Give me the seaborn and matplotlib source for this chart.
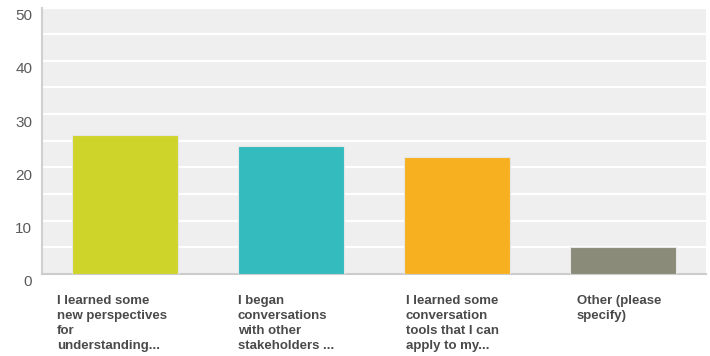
import matplotlib
matplotlib.use("Agg")
import matplotlib.pyplot as plt
from matplotlib.transforms import ScaledTranslation
import seaborn as sns
import pandas as pd

categories = [
    "I learned some\nnew perspectives\nfor\nunderstanding...",
    "I began\nconversations\nwith other\nstakeholders ...",
    "I learned some\nconversation\ntools that I can\napply to my...",
    "Other (please\nspecify)",
]
responses = [26, 24, 22, 5]
bar_colors = ["#cfd42a", "#33bbbe", "#f7b01f", "#8a8b78"]
major_ticks = [0, 10, 20, 30, 40, 50]
minor_ticks = [5, 15, 25, 35, 45]

sns.set_theme(style="white")
plt.rcParams["font.family"] = ["Liberation Sans", "DejaVu Sans"]

df = pd.DataFrame({"answer": categories, "count": responses})

fig = plt.figure(figsize=(7.10, 3.56), dpi=100)
ax = fig.add_axes([42 / 710, 82 / 356, 664 / 710, 266.5 / 356])
ax.set_facecolor("#efefef")

sns.barplot(
    data=df, x="answer", y="count", hue="answer",
    palette=bar_colors, width=0.64, legend=False,
    edgecolor="#e6e6e6", linewidth=0.8, saturation=1, ax=ax, zorder=3,
)

ax.set_ylim(0, 50)
ax.set_xlim(-0.5, len(categories) - 0.5)
ax.set_yticks(major_ticks)
ax.set_yticks(minor_ticks, minor=True)
ax.grid(axis="y", which="both", color="white", linewidth=1.6, zorder=0)
ax.set_axisbelow(True)
ax.tick_params(axis="both", which="both", length=0)
ax.tick_params(axis="y", pad=7, labelsize=11, labelcolor="#5a5a5a")
ax.set_xlabel("")
ax.set_ylabel("")

ax.tick_params(axis="x", pad=15)
x_shifts = [-13, -5, -5, -4]
for lbl, dx in zip(ax.get_xticklabels(), x_shifts):
    lbl.set_fontweight("bold")
    lbl.set_fontsize(9.5)
    lbl.set_color("#4a4a4a")
    lbl.set_multialignment("left")
    lbl.set_linespacing(1.35)
    lbl.set_transform(lbl.get_transform()
                      + ScaledTranslation(dx / 100, 0, fig.dpi_scale_trans))

shift = ScaledTranslation(0, -7 / 100, fig.dpi_scale_trans)
for lbl in ax.get_yticklabels():
    lbl.set_transform(lbl.get_transform() + shift)

for side in ["top", "right"]:
    ax.spines[side].set_visible(False)
ax.spines["left"].set_color("#d0d0d0")
ax.spines["left"].set_linewidth(1.5)
ax.spines["bottom"].set_color("#cccccc")
ax.spines["bottom"].set_linewidth(1.5)

fig.savefig("out.png", dpi=100, facecolor="white")
